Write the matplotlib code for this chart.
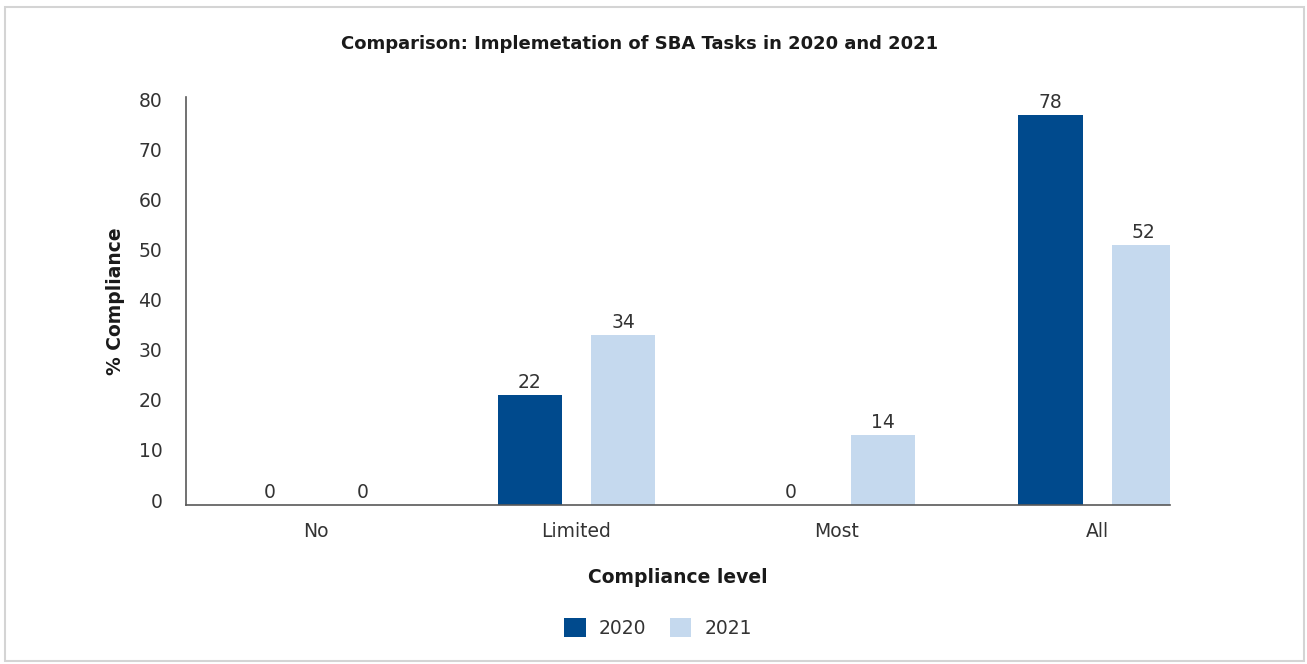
import matplotlib.pyplot as plt
import matplotlib.patches as patches
import matplotlib.transforms as mtransforms
import numpy as np

plt.rcParams["font.family"] = ["DejaVu Sans"]

# data
levels = ["No", "Limited", "Most", "All"]
years = ["2020", "2021"]
vals_2020 = [0, 22, 0, 78]
vals_2021 = [0, 34, 14, 52]

col_2020 = "#004a8d"
col_2021 = "#c5d9ee"
txt = "#333333"

W, H = 1307, 664
fig = plt.figure(figsize=(W / 100, H / 100), dpi=100)

# light frame round the whole chart
fig.patches.append(patches.Rectangle((5 / W, 3 / H), 1299 / W, 654 / H,
                                     transform=fig.transFigure, fill=False,
                                     edgecolor="#d4d4d4", linewidth=1.5))

# axes placed in pixel terms
left, right, top, bottom = 186, 1170, 97, 505
ax = fig.add_axes([left / W, 1 - bottom / H, (right - left) / W, (bottom - top) / H])

x = np.arange(len(levels))
bw = 0.246
off = 0.179
b1 = ax.bar(x - off, vals_2020, bw, color=col_2020, label=years[0])
b2 = ax.bar(x + off, vals_2021, bw, color=col_2021, label=years[1])
for bars in (b1, b2):
    ax.bar_label(bars, padding=2, fontsize=13.5, color=txt)

ax.set_xlim(-0.5, 3.28)
ax.set_ylim(0, 81.5)
ax.set_yticks(range(0, 81, 10))
ax.set_xticks(x)
ax.set_xticklabels(levels)
ax.tick_params(axis="both", length=0, labelsize=13.5, labelcolor=txt)
ax.tick_params(axis="y", pad=17)
ax.tick_params(axis="x", pad=12)
# nudge the y tick labels up a little
shift = mtransforms.ScaledTranslation(0, 5 / 100, fig.dpi_scale_trans)
for lab in ax.get_yticklabels():
    lab.set_transform(lab.get_transform() + shift)

for s in ("top", "right"):
    ax.spines[s].set_visible(False)
for s in ("left", "bottom"):
    ax.spines[s].set_color("#595959")
    ax.spines[s].set_linewidth(1.2)

ax.set_ylabel("% Compliance", fontsize=13.5, fontweight="bold", color="#1a1a1a", labelpad=10)
ax.set_xlabel("Compliance level", fontsize=13.5, fontweight="bold", color="#1a1a1a", labelpad=20)

fig.text(640 / W, 1 - 44 / H, "Comparison: Implemetation of SBA Tasks in 2020 and 2021",
         ha="center", va="center", fontsize=13, fontweight="bold", color="#1a1a1a")

fig.legend(loc="center", bbox_to_anchor=(658 / W, 1 - 628 / H), ncol=2, frameon=False,
           fontsize=13.5, handlelength=1.15, handleheight=1.15, columnspacing=1.25,
           handletextpad=0.7, labelcolor=txt)

fig.savefig("out.png", dpi=100)
